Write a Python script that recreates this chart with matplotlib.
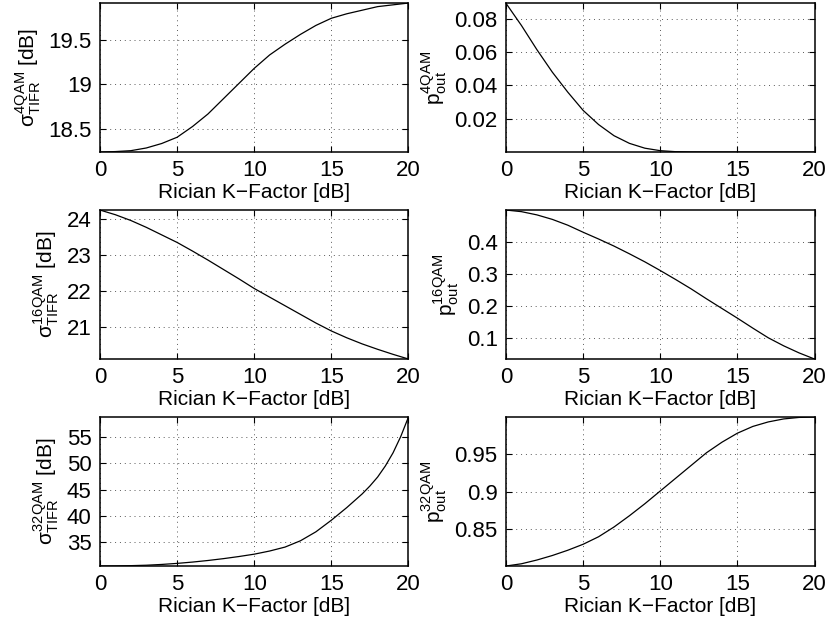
import numpy as np
import matplotlib
matplotlib.use("Agg")
import matplotlib.pyplot as plt

plt.rcParams['font.family'] = ['Liberation Sans', 'DejaVu Sans']
plt.rcParams['mathtext.fontset'] = 'custom'
plt.rcParams['mathtext.rm'] = 'Liberation Sans'
plt.rcParams['mathtext.it'] = 'Liberation Sans'
plt.rcParams['mathtext.bf'] = 'Liberation Sans'

# Rician K-factor [dB]
k_db = list(range(0, 21))
k_db_32 = list(range(0, 18)) + [17.5, 18, 18.5, 19, 19.5, 20]
k_db_32 = sorted(k_db_32)

# values
sigma_4qam = [18.245, 18.25, 18.26, 18.29, 18.34, 18.41, 18.53, 18.67, 18.84, 19.01,
              19.18, 19.33, 19.45, 19.56, 19.66, 19.74, 19.79, 19.83, 19.87, 19.89, 19.91]
pout_4qam = [0.0893, 0.0760, 0.0615, 0.0480, 0.0360, 0.0250, 0.0165, 0.0098, 0.0052,
             0.0023, 0.0008, 0.0002, 0.00005, 0.00002, 0.00001, 0.0, 0.0, 0.0, 0.0, 0.0, 0.0]
sigma_16qam = [24.26, 24.13, 23.97, 23.78, 23.57, 23.36, 23.12, 22.87, 22.61, 22.35,
               22.08, 21.84, 21.60, 21.36, 21.12, 20.90, 20.71, 20.54, 20.39, 20.25, 20.12]
pout_16qam = [0.499, 0.494, 0.484, 0.470, 0.452, 0.430, 0.409, 0.387, 0.363, 0.338,
              0.311, 0.283, 0.254, 0.223, 0.193, 0.163, 0.132, 0.102, 0.077, 0.055, 0.036]
sigma_32qam = [30.5, 30.52, 30.57, 30.65, 30.8, 31.0, 31.25, 31.55, 31.9, 32.3,
               32.75, 33.35, 34.1, 35.3, 37.0, 39.2, 41.6, 44.2, 45.7, 47.4,
               49.5, 52.0, 55.1, 58.8]
pout_32qam = [0.801, 0.804, 0.809, 0.815, 0.822, 0.830, 0.840, 0.853, 0.868, 0.884,
              0.901, 0.918, 0.935, 0.952, 0.966, 0.978, 0.987, 0.993, 0.997, 0.999, 0.9995]

x_ticks = [0, 5, 10, 15, 20]
yticks_sigma_4 = [18.5, 19, 19.5]
yticks_pout_4 = [0.02, 0.04, 0.06, 0.08]
yticks_sigma_16 = [21, 22, 23, 24]
yticks_pout_16 = [0.1, 0.2, 0.3, 0.4]
yticks_sigma_32 = [35, 40, 45, 50, 55]
yticks_pout_32 = [0.85, 0.9, 0.95]

xlabel = "Rician K\u2212Factor [dB]"
panels = [
    (k_db, sigma_4qam, yticks_sigma_4, r"$\sigma^{\mathrm{4QAM}}_{\mathrm{TIFR}}$ [dB]", (18.245, 19.91)),
    (k_db, pout_4qam, yticks_pout_4, r"$\mathrm{p}^{\mathrm{4QAM}}_{\mathrm{out}}$", (0.0, 0.0895)),
    (k_db, sigma_16qam, yticks_sigma_16, r"$\sigma^{\mathrm{16QAM}}_{\mathrm{TIFR}}$ [dB]", (20.12, 24.26)),
    (k_db, pout_16qam, yticks_pout_16, r"$\mathrm{p}^{\mathrm{16QAM}}_{\mathrm{out}}$", (0.036, 0.499)),
    (k_db_32, sigma_32qam, yticks_sigma_32, r"$\sigma^{\mathrm{32QAM}}_{\mathrm{TIFR}}$ [dB]", (30.5, 58.8)),
    (k_db, pout_32qam, yticks_pout_32, r"$\mathrm{p}^{\mathrm{32QAM}}_{\mathrm{out}}$", (0.801, 0.9995)),
]

fig = plt.figure(figsize=(8.27, 6.22), dpi=100)
lefts = [0.1209, 0.6119]
bottoms = [0.7556, 0.4228, 0.0900]
w, h = 0.3730, 0.2395

for i, (xs, vals, yt, ylab, ylim) in enumerate(panels):
    row, col = divmod(i, 2)
    ax = fig.add_axes([lefts[col], bottoms[row], w, h])
    ax.plot(xs, vals, color='black', lw=0.9)
    ax.set_xlim(0, 20)
    ax.set_ylim(*ylim)
    ax.set_xticks(x_ticks)
    ax.set_yticks(yt)
    ax.set_yticklabels([f"{t:g}" for t in yt])
    ax.grid(True, color='0.35', linestyle=(0, (1, 4)), linewidth=0.7)
    ax.tick_params(direction='in', top=True, right=True, length=4, width=0.8,
                   labelsize=16, pad=6)
    for s in ax.spines.values():
        s.set_linewidth(1.1)
    ax.set_xlabel(xlabel, fontsize=15, labelpad=1)
    ax.set_ylabel(ylab, fontsize=15, labelpad=4)

fig.savefig("out.png", dpi=100)
